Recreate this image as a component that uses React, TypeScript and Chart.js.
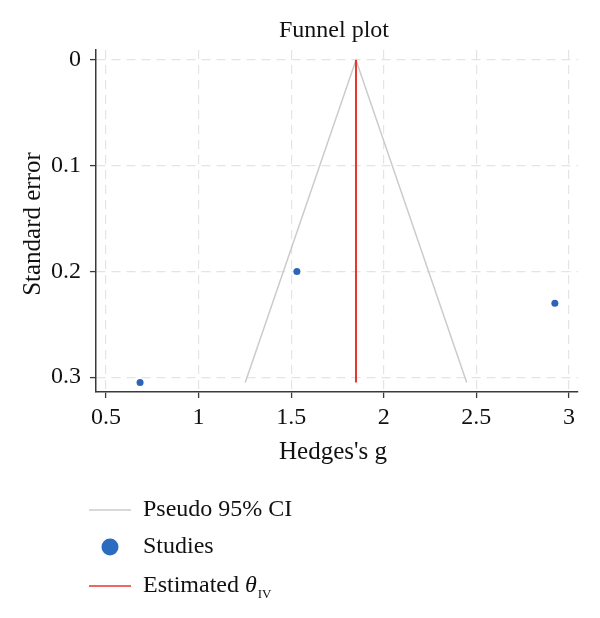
import React, { useEffect, useRef } from "react";
import { Chart, registerables } from "chart.js";

Chart.register(...registerables);

const chartTitle = "Funnel plot";
const xAxisTitle = "Hedges's g";
const yAxisTitle = "Standard error";

const xTickValues = [0.5, 1, 1.5, 2, 2.5, 3];
const xTickLabels = ["0.5", "1", "1.5", "2", "2.5", "3"];
const yTickValues = [0, 0.1, 0.2, 0.3];
const yTickLabels = ["0", "0.1", "0.2", "0.3"];

const studyEffects = [0.684, 1.531, 2.924];
const studySE = [0.305, 0.2, 0.23];

const funnelX = [1.252, 1.85, 2.448];
const funnelY = [0.305, 0, 0.305];

const estimateX = [1.85, 1.85];
const estimateY = [0, 0.305];

const legendLabels = ["Pseudo 95% CI", "Studies", "Estimated "];

const FONT = '"Liberation Serif", "DejaVu Serif", serif';
const GRID = "#e4e4e4";
const AXIS = "#3a3a3a";
const CI_COLOR = "#cbcbcb";
const RED = "#e5372c";
const BLUE = "#2c64b8";

const overlay = {
  id: "overlay",
  afterDraw(chart: any) {
    const ctx = chart.ctx as CanvasRenderingContext2D;
    const ca = chart.chartArea;
    const midX = (ca.left + ca.right) / 2;
    const midY = (ca.top + ca.bottom) / 2;
    ctx.save();
    ctx.fillStyle = "#111";
    ctx.textBaseline = "middle";
    // title
    ctx.font = `24px ${FONT}`;
    ctx.textAlign = "center";
    ctx.fillText(chartTitle, midX - 3, 31);
    // x title
    ctx.font = `25px ${FONT}`;
    ctx.fillText(xAxisTitle, midX - 4, 452);
    // y title
    ctx.save();
    ctx.translate(33, midY + 3);
    ctx.rotate(-Math.PI / 2);
    ctx.fillText(yAxisTitle, 0, 0);
    ctx.restore();

    // legend
    const lx0 = 89;
    const lx1 = 131;
    const tx = 143;
    const rows = [510, 547, 586];
    ctx.lineWidth = 1.5;
    ctx.strokeStyle = CI_COLOR;
    ctx.beginPath();
    ctx.moveTo(lx0, rows[0]);
    ctx.lineTo(lx1, rows[0]);
    ctx.stroke();
    ctx.fillStyle = "#2a6cc0";
    ctx.beginPath();
    ctx.arc((lx0 + lx1) / 2, rows[1], 8.5, 0, Math.PI * 2);
    ctx.fill();
    ctx.strokeStyle = RED;
    ctx.beginPath();
    ctx.moveTo(lx0, rows[2]);
    ctx.lineTo(lx1, rows[2]);
    ctx.stroke();

    ctx.fillStyle = "#111";
    ctx.textAlign = "left";
    ctx.font = `24px ${FONT}`;
    ctx.fillText(legendLabels[0], tx, rows[0]);
    ctx.fillText(legendLabels[1], tx, rows[1]);
    ctx.fillText(legendLabels[2], tx, rows[2]);
    let w = ctx.measureText(legendLabels[2]).width;
    ctx.font = `italic 24px ${FONT}`;
    ctx.fillText("θ", tx + w, rows[2]);
    w += ctx.measureText("θ").width + 1;
    ctx.font = `13px ${FONT}`;
    ctx.fillText("IV", tx + w, rows[2] + 9);
    ctx.restore();
  },
};

export default function App() {
  const ref = useRef<HTMLCanvasElement | null>(null);
  useEffect(() => {
    document.body.style.margin = "0";
    const canvas = ref.current;
    if (!canvas) return;
    const chart = new Chart(canvas, {
      type: "scatter",
      data: {
        datasets: [
          {
            label: "Studies",
            data: studyEffects.map((x, i) => ({ x, y: studySE[i] })),
            backgroundColor: BLUE,
            borderColor: BLUE,
            pointRadius: 3.5,
            pointBorderWidth: 0,
            showLine: false,
            order: 0,
          },
          {
            label: "Estimated",
            data: estimateX.map((x, i) => ({ x, y: estimateY[i] })),
            borderColor: RED,
            borderWidth: 2,
            pointRadius: 0,
            showLine: true,
            order: 1,
          },
          {
            label: "Pseudo 95% CI",
            data: funnelX.map((x, i) => ({ x, y: funnelY[i] })),
            borderColor: CI_COLOR,
            borderWidth: 1.5,
            pointRadius: 0,
            showLine: true,
            order: 2,
          },
        ],
      },
      options: {
        responsive: false,
        animation: false,
        devicePixelRatio: 1,
        layout: { padding: { top: 50, left: 26, right: 22, bottom: 146 } },
        plugins: {
          legend: { display: false },
          title: { display: false },
          tooltip: { enabled: false },
        },
        scales: {
          x: {
            type: "linear",
            min: 0.446,
            max: 3.049,
            afterBuildTicks: (s: any) => {
              s.ticks = xTickValues.map((v) => ({ value: v }));
            },
            afterFit: (s: any) => {
              s.height = 80;
            },
            ticks: {
              callback: (_v: any, i: number) => xTickLabels[i],
              font: { family: FONT, size: 24 },
              color: "#111",
              padding: 5,
              maxRotation: 0,
            },
            grid: {
              color: GRID,
              lineWidth: 1.2,
              tickColor: AXIS,
              tickLength: 6,
              tickWidth: 1.3,
              tickBorderDash: [],
            },
            border: { color: AXIS, width: 1.5, dash: [9, 6] },
          },
          y: {
            type: "linear",
            reverse: true,
            min: -0.0095,
            max: 0.314,
            afterBuildTicks: (s: any) => {
              s.ticks = yTickValues.map((v) => ({ value: v }));
            },
            afterFit: (s: any) => {
              s.width = 70;
            },
            ticks: {
              callback: (_v: any, i: number) => yTickLabels[i],
              font: { family: FONT, size: 24 },
              color: "#111",
              padding: 9,
            },
            grid: {
              color: GRID,
              lineWidth: 1.2,
              tickColor: AXIS,
              tickLength: 6,
              tickWidth: 1.3,
              tickBorderDash: [],
            },
            border: { color: AXIS, width: 1.5, dash: [9, 6] },
          },
        },
      },
      plugins: [overlay],
    });
    return () => chart.destroy();
  }, []);
  return (
    <div style={{ width: 600, height: 618, background: "#fff" }}>
      <canvas ref={ref} width={600} height={618} />
    </div>
  );
}
